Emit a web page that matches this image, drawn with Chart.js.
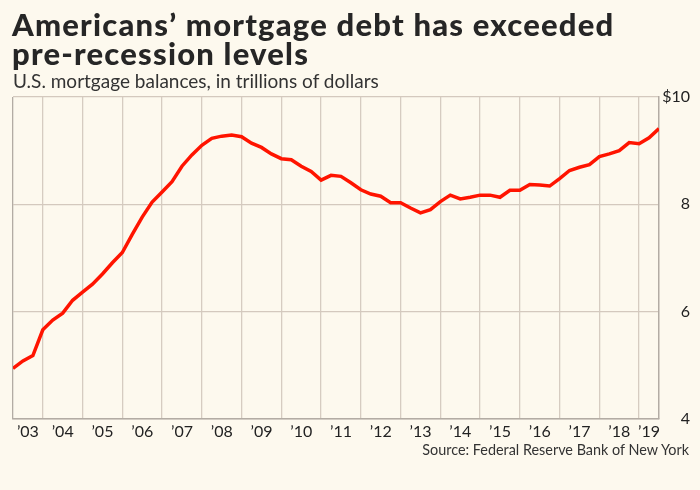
<!DOCTYPE html>
<html>
<head>
<meta charset="utf-8">
<script src="https://cdn.jsdelivr.net/npm/chart.js@4/dist/chart.umd.min.js"></script>
<style>
  html, body { margin: 0; padding: 0; background: #fdf9ee; }
  #wrap { position: relative; width: 700px; height: 490px; overflow: hidden; font-family: Lato, "Open Sans", sans-serif; }
  #title { position: absolute; left: 12px; top: 10px; width: 690px; font-weight: 900; font-size: 31px; line-height: 29px; letter-spacing: 1.2px; color: #262626; white-space: nowrap; }
  #subtitle { position: absolute; left: 13px; top: 70px; font-size: 19px; line-height: 1.2; color: #333; white-space: nowrap; }
  #source { position: absolute; right: 11px; top: 441px; font-size: 14.4px; line-height: 1.2; color: #333; white-space: nowrap; }
  canvas { position: absolute; left: 0; top: 0; }
</style>
</head>
<body>
<div id="wrap">
  <canvas id="chart" width="700" height="490"></canvas>
  <div id="title">Americans’ mortgage debt has exceeded<br>pre-recession levels</div>
  <div id="subtitle">U.S. mortgage balances, in trillions of dollars</div>
  <div id="source">Source: Federal Reserve Bank of New York</div>
</div>
<script>
// quarterly mortgage balances, 2003 Q1 .. 2019 Q2 (trillions of dollars)
const years = ["’03", "’04", "’05", "’06", "’07", "’08", "’09", "’10", "’11",
               "’12", "’13", "’14", "’15", "’16", "’17", "’18", "’19"];
const balances = [
  4.94, 5.08, 5.18, 5.66,   // 2003
  5.84, 5.97, 6.21, 6.36,   // 2004
  6.51, 6.70, 6.91, 7.10,   // 2005
  7.44, 7.76, 8.04, 8.23,   // 2006
  8.42, 8.71, 8.92, 9.10,   // 2007
  9.23, 9.27, 9.29, 9.26,   // 2008
  9.14, 9.06, 8.94, 8.85,   // 2009
  8.83, 8.71, 8.61, 8.45,   // 2010
  8.54, 8.52, 8.40, 8.27,   // 2011
  8.19, 8.15, 8.03, 8.03,   // 2012
  7.93, 7.84, 7.90, 8.05,   // 2013
  8.17, 8.10, 8.13, 8.17,   // 2014
  8.17, 8.13, 8.26, 8.26,   // 2015
  8.37, 8.36, 8.34, 8.48,   // 2016
  8.63, 8.69, 8.74, 8.89,   // 2017
  8.94, 9.00, 9.15, 9.13,   // 2018
  9.24, 9.41                // 2019
];
const yTicks = [4, 6, 8, 10];

const $ = (id) => document.getElementById(id);
const lastIdx = balances.length - 1;

// year dividers sit on each Q4 point; labels go midway between dividers
const dividers = years.slice(0, -1).map((_, i) => i * 4 + 3);
const bounds = [0, ...dividers, lastIdx];
const labelPos = years.map((_, i) => (bounds[i] + bounds[i + 1]) / 2);
const labelAt = new Map(labelPos.map((p, i) => [p, years[i]]));
const dividerSet = new Set([0, ...dividers]);

const points = balances.map((v, i) => ({ x: i, y: v }));

new Chart($("chart").getContext("2d"), {
  type: "line",
  data: {
    datasets: [{
      data: points,
      borderColor: "#ff1400",
      borderWidth: 3.5,
      pointRadius: 0,
      tension: 0,
      fill: false,
    }],
  },
  options: {
    responsive: false,
    animation: false,
    layout: { padding: { left: 13, top: 97, right: 10, bottom: 46 } },
    plugins: { legend: { display: false }, tooltip: { enabled: false } },
    scales: {
      x: {
        type: "linear",
        min: 0,
        max: lastIdx,
        afterBuildTicks: (axis) => {
          axis.ticks = [...dividerSet, ...labelPos]
            .sort((a, b) => a - b)
            .map((value) => ({ value }));
        },
        grid: {
          drawTicks: false,
          color: (ctx) => {
            const v = ctx.tick && ctx.tick.value;
            if (v === 0) return "#b3aca4";
            return dividerSet.has(v) ? "#d6ccc1" : "rgba(0,0,0,0)";
          },
          lineWidth: 1.3,
        },
        border: { color: "#b3aca4", width: 1.5 },
        ticks: {
          autoSkip: false,
          maxRotation: 0,
          padding: 3,
          color: "#222",
          font: { family: "Lato", size: 16 },
          callback: (v) => labelAt.get(v) || "",
        },
      },
      y: {
        position: "right",
        min: 4,
        max: 10,
        afterBuildTicks: (axis) => { axis.ticks = yTicks.map((value) => ({ value })); },
        afterFit: (axis) => { axis.width = 31; },
        grid: { drawTicks: false, color: "#d4c9be", lineWidth: 1.3 },
        border: { color: "#b3aca4", width: 1.5 },
        ticks: {
          crossAlign: "far",
          padding: 4,
          color: "#222",
          font: { family: "Lato", size: 16 },
          callback: (v) => (v === 10 ? "$10" : String(v)),
        },
      },
    },
  },
});
</script>
</body>
</html>
